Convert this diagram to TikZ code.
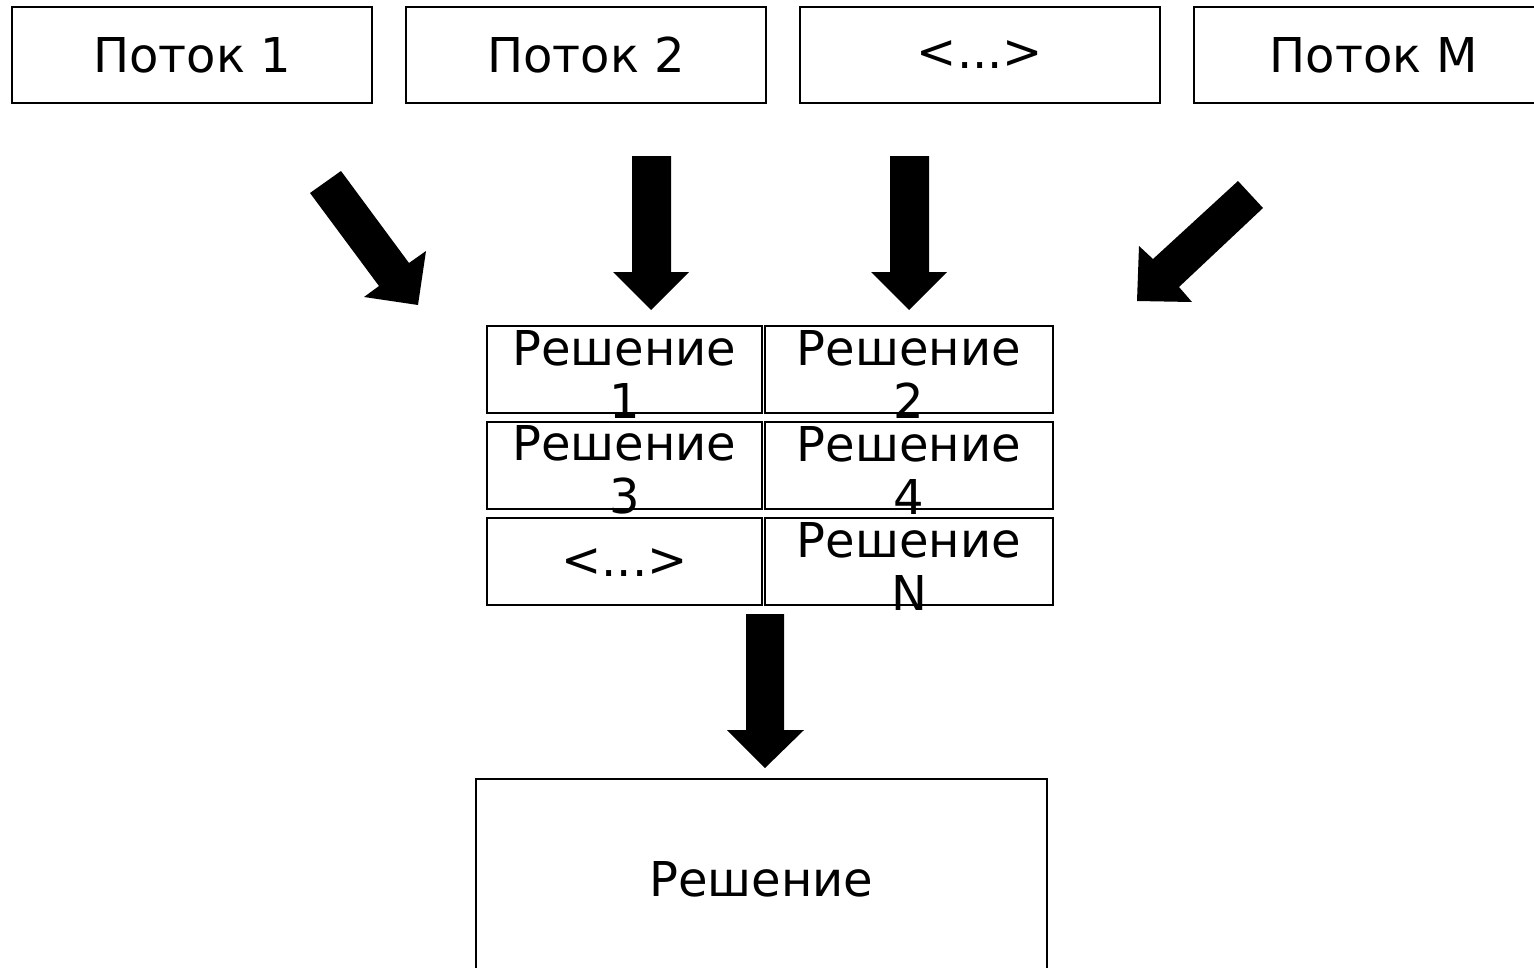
\documentclass[tikz,border=0pt]{standalone}
\usepackage{fontspec}
\setmainfont{DejaVu Sans}
\begin{document}
\begin{tikzpicture}[x=1pt,y=-1pt,
  txt/.style={font=\fontsize{48}{53}\selectfont},
  box/.style={draw, line width=2pt, inner sep=0pt, minimum width=360pt, minimum height=96pt, txt},
  cell/.style={draw, line width=2pt, inner sep=0pt, minimum height=87pt},
  celltext/.style={inner sep=0pt, align=center, txt},
  blockarrow/.style={fill=black, draw=none}]
\useasboundingbox (0,0) rectangle (1534,967);
% top stream boxes
\node[box] (p1) at (192,55) {Поток 1};
\node[box] (p2) at (586,55) {Поток 2};
\node[box] (p3) at (980,55) {<...>};
\node[box] (pm) at (1374,55) {Поток M};
% grid of solutions
\node[cell, minimum width=275pt] (c1) at (624.5,369.5) {};
\node[cell, minimum width=288pt] (c2) at (909,369.5) {};
\node[cell, minimum width=275pt] (c3) at (624.5,465) {};
\node[cell, minimum width=288pt] (c4) at (909,465) {};
\node[cell, minimum width=275pt] (c5) at (624.5,561) {};
\node[cell, minimum width=288pt] (c6) at (909,561) {};
\node[celltext] (t1) at ([yshift=-5pt]c1.center) {Решение\\1};
\node[celltext] (t2) at ([yshift=-5pt]c2.center) {Решение\\2};
\node[celltext] (t3) at ([yshift=-5pt]c3.center) {Решение\\3};
\node[celltext] (t4) at ([yshift=-5pt]c4.center) {Решение\\4};
\node[celltext] (t5) at ([yshift=-2pt]c5.center) {<...>};
\node[celltext] (t6) at ([yshift=-5pt]c6.center) {Решение\\N};
% final solution
\node[draw, line width=2pt, inner sep=0pt, minimum width=571pt, minimum height=200pt, txt] (res) at (761.5,879) {Решение};
% block arrows
\fill[blockarrow] (310,193) -- (341,171) -- (409,263) -- (426,251) -- (418,305) -- (364,297) -- (379,286) -- cycle;
\fill[blockarrow] (632,156) -- (671,156) -- (671,272) -- (689,272) -- (651,310) -- (613,272) -- (632,272) -- cycle;
\fill[blockarrow] (890,156) -- (929,156) -- (929,272) -- (947,272) -- (909,310) -- (871,272) -- (890,272) -- cycle;
\fill[blockarrow] (1238,181) -- (1263,208) -- (1179,287) -- (1192,302) -- (1137,301) -- (1139,246) -- (1153,259) -- cycle;
\fill[blockarrow] (746,614) -- (784,614) -- (784,730) -- (804,730) -- (765,768) -- (727,730) -- (746,730) -- cycle;
\end{tikzpicture}
\end{document}
